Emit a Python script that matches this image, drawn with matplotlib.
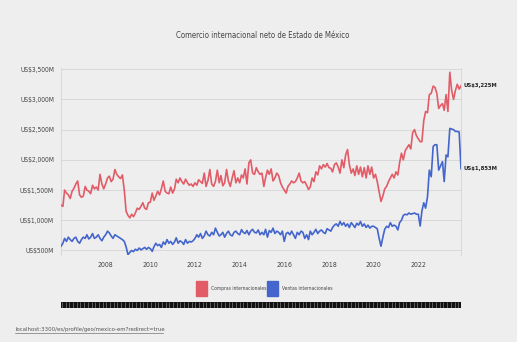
import numpy as np
import pandas as pd
import matplotlib
matplotlib.use("Agg")
import matplotlib.pyplot as plt

plt.rcParams['font.family'] = ['DejaVu Sans']
plt.rcParams['font.stretch'] = 'condensed'

# monthly values, US$ millions, Jan 2006 - Dec 2023
compras = [
    1250, 1230, 1500, 1450, 1420, 1360, 1480, 1530, 1600, 1650, 1420, 1380,  # 2006
    1400, 1560, 1500, 1480, 1440, 1580, 1520, 1550, 1500, 1760, 1600, 1520,  # 2007
    1600, 1700, 1730, 1640, 1680, 1840, 1760, 1720, 1690, 1750, 1500, 1150,  # 2008
    1080, 1040, 1100, 1060, 1120, 1200, 1180, 1230, 1290, 1200, 1180, 1290,  # 2009
    1300, 1450, 1330, 1400, 1480, 1420, 1520, 1650, 1480, 1450, 1440, 1550,  # 2010
    1450, 1520, 1680, 1620, 1700, 1640, 1600, 1680, 1620, 1580, 1600, 1560,  # 2011
    1620, 1580, 1670, 1640, 1610, 1780, 1560, 1660, 1840, 1600, 1560, 1640,  # 2012
    1830, 1620, 1740, 1570, 1620, 1840, 1650, 1560, 1700, 1820, 1620, 1700,  # 2013
    1620, 1750, 1700, 1850, 1600, 1950, 2000, 1780, 1760, 1870, 1800, 1760,  # 2014
    1780, 1560, 1700, 1830, 1760, 1850, 1650, 1700, 1780, 1740, 1620, 1550,  # 2015
    1500, 1450, 1560, 1600, 1650, 1620, 1640, 1700, 1780, 1650, 1620, 1640,  # 2016
    1580, 1510, 1550, 1700, 1640, 1800, 1750, 1900, 1850, 1920, 1880, 1940,  # 2017
    1870, 1860, 1800, 1920, 1950, 1880, 1780, 2000, 1870, 2080, 2170, 1920,  # 2018
    1780, 1850, 1740, 1900, 1760, 1880, 1720, 1870, 1700, 1900, 1760, 1880,  # 2019
    1700, 1760, 1640, 1470, 1310, 1400, 1520, 1560, 1640, 1700, 1760, 1700,  # 2020
    1800, 1750, 1950, 2110, 2000, 2150, 2200, 2250, 2180, 2450, 2500, 2400,  # 2021
    2350, 2300, 2300, 2650, 2800, 2780, 3080, 3100, 3220, 3200, 3100, 2850,  # 2022
    2900, 2930, 2820, 3080, 2800, 3450, 3150, 3000, 3150, 3250, 3170, 3225,  # 2023
]

ventas = [
    570, 620, 700, 650, 720, 680, 650, 700, 720, 650, 620, 680,  # 2006
    720, 700, 760, 690, 720, 780, 700, 720, 760, 700, 660, 720,  # 2007
    760, 820, 790, 740, 700, 760, 740, 720, 700, 680, 650, 560,  # 2008
    430, 470, 500, 480, 520, 500, 540, 510, 530, 550, 520, 550,  # 2009
    530, 485, 560, 620, 580, 600, 550, 640, 600, 680, 620, 650,  # 2010
    600, 640, 710, 620, 660, 640, 600, 680, 620, 650, 640, 660,  # 2011
    700, 760, 720, 780, 700, 740, 820, 760, 740, 800, 760, 870,  # 2012
    800, 740, 760, 800, 720, 780, 820, 760, 740, 800, 820, 780,  # 2013
    760, 845, 800, 780, 830, 760, 820, 850, 800, 790, 840, 760,  # 2014
    800, 760, 850, 720, 830, 800, 870, 780, 820, 800, 760, 820,  # 2015
    650, 780, 800, 760, 820, 760, 700, 800, 760, 820, 800, 700,  # 2016
    760, 680, 820, 760, 800, 850, 780, 820, 840, 800, 780, 860,  # 2017
    840, 820, 880, 920, 940, 900, 980, 920, 960, 900, 940, 880,  # 2018
    960, 920, 880, 950, 920, 980, 900, 940, 880, 920, 870, 900,  # 2019
    900, 880, 860, 700, 570, 720, 850, 900, 880, 960, 900, 920,  # 2020
    900, 840, 960, 1000, 1080, 1100, 1090, 1120, 1100, 1110, 1120, 1100,  # 2021
    1100, 905, 1150, 1290, 1200, 1390, 1830, 1720, 2220, 2250, 2250, 1830,  # 2022
    1900, 1970, 1640, 2080, 2050, 2520, 2510, 2500, 2470, 2470, 2460, 1853,  # 2023
]

fechas = pd.date_range("2006-01-01", periods=len(compras), freq="MS")
anios = [2008, 2010, 2012, 2014, 2016, 2018, 2020, 2022]
yticks = [500, 1000, 1500, 2000, 2500, 3000, 3500]

rojo = "#e25c68"
azul = "#4466cc"
fondo = "#eeeeee"
gris = "#444444"

fig = plt.figure(figsize=(5.17, 3.42), dpi=100, facecolor=fondo)
ax = fig.add_axes([61/517, 87/342, 400/517, 187/342])
ax.set_facecolor(fondo)

ax.plot(fechas, compras, color=rojo, lw=1.2, zorder=3)
ax.plot(fechas, ventas, color=azul, lw=1.2, zorder=3)

ax.set_ylim(425, 3520)
ax.set_xlim(fechas[0], fechas[-1])
ax.set_yticks(yticks)
ax.set_yticklabels(["US$" + format(v, ",") + "M" for v in yticks], fontsize=4.8, color=gris)
ax.set_xticks([pd.Timestamp(f"{a}-01-01") for a in anios])
ax.set_xticklabels([str(a) for a in anios], fontsize=5, color=gris)
ax.tick_params(axis="both", length=0, pad=5)
ax.grid(axis="y", color="#d8d8d8", lw=0.7)
for s in ["top", "bottom"]:
    ax.spines[s].set_visible(False)
for s in ["left", "right"]:
    ax.spines[s].set_color("#d8d8d8")
    ax.spines[s].set_linewidth(0.7)

# etiquetas del ultimo valor
ax.annotate("US$" + format(compras[-1], ",") + "M", (fechas[-1], compras[-1]),
            xytext=(1.5, 0), textcoords="offset points", va="center",
            fontsize=4.2, fontweight="bold", color="#222222")
ax.annotate("US$" + format(ventas[-1], ",") + "M", (fechas[-1], ventas[-1]),
            xytext=(1.5, 0), textcoords="offset points", va="center",
            fontsize=4.2, fontweight="bold", color="#222222")

fig.text(263/517, 1 - 35/342, "Comercio internacional neto de Estado de México",
         ha="center", va="center", fontsize=5.6, color="#444444")

# leyenda
fig.patches.append(plt.Rectangle((196/517, 1 - 296/342), 11/517, 15/342,
                                 transform=fig.transFigure, color=rojo))
fig.text(211/517, 1 - 288.5/342, "Compras internacionales", fontsize=3.6,
         va="center", color=gris)
fig.patches.append(plt.Rectangle((267/517, 1 - 296/342), 11/517, 15/342,
                                 transform=fig.transFigure, color=azul))
fig.text(282/517, 1 - 288.5/342, "Ventas internacionales", fontsize=3.6,
         va="center", color=gris)

# barra de tiempo
bar = fig.add_axes([61/517, 1 - 308/342, 400/517, 6/342])
bar.add_patch(plt.Rectangle((-0.5, 0), len(compras), 1, color="#111111", zorder=0))
bar.vlines(np.arange(0, len(compras), 2), 0, 1, color="#9a9a9a", lw=0.4)
bar.set_xlim(-0.5, len(compras) - 0.5)
bar.set_ylim(0, 1)
bar.axis("off")

fig.text(15/517, 1 - 329/342, "localhost:3300/es/profile/geo/mexico-em?redirect=true",
         fontsize=4.3, va="center", color="#555555")
fig.add_artist(plt.Line2D([15/517, 163/517], [1 - 332.5/342, 1 - 332.5/342],
                          transform=fig.transFigure, color="#555555", lw=0.4))

fig.savefig("out.png", dpi=100, facecolor=fondo)
